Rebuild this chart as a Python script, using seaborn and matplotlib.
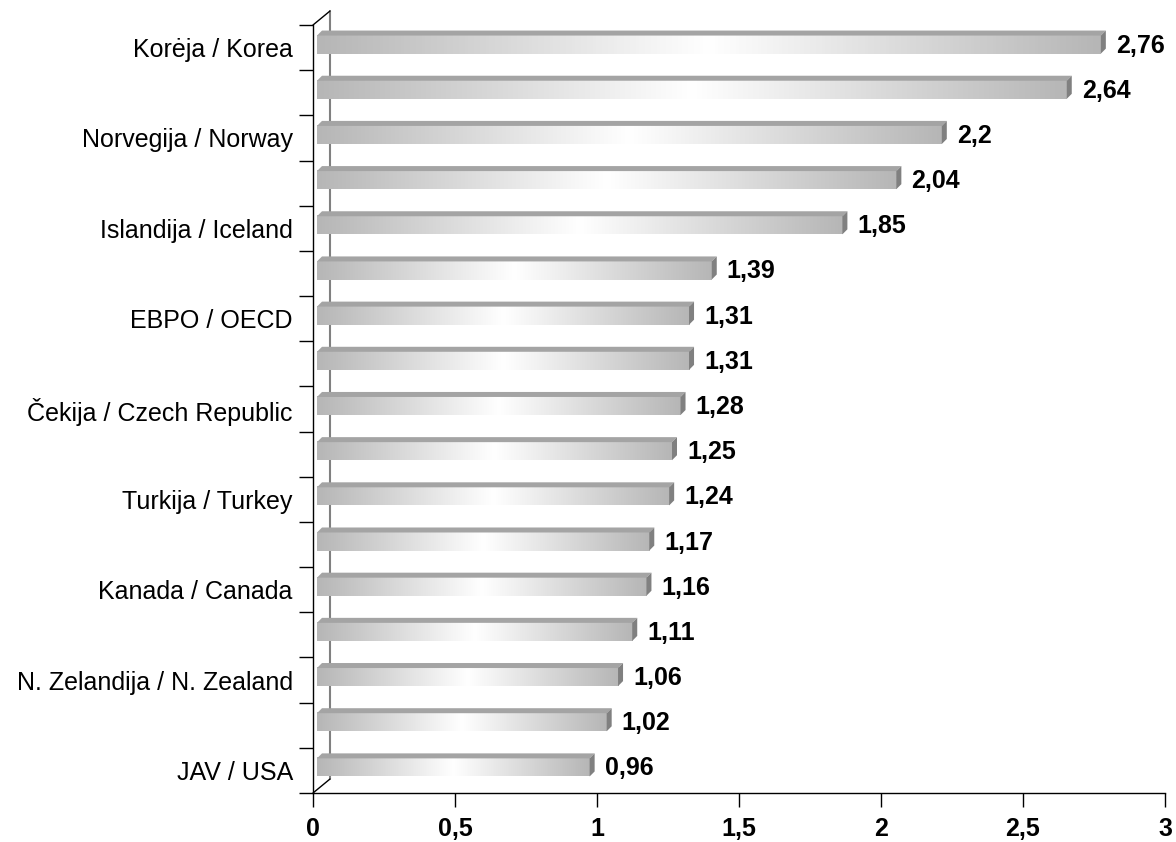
import numpy as np
import pandas as pd
import matplotlib
matplotlib.use('Agg')
import matplotlib.pyplot as plt
import seaborn as sns
from matplotlib.patches import Polygon
from matplotlib.colors import LinearSegmentedColormap
from matplotlib.transforms import IdentityTransform

labels = ['Korėja / Korea', '', 'Norvegija / Norway', '', 'Islandija / Iceland', '',
          'EBPO / OECD', '', 'Čekija / Czech Republic', '', 'Turkija / Turkey', '',
          'Kanada / Canada', '', 'N. Zelandija / N. Zealand', '', 'JAV / USA']
values = [2.76, 2.64, 2.2, 2.04, 1.85, 1.39, 1.31, 1.31, 1.28, 1.25, 1.24, 1.17,
          1.16, 1.11, 1.06, 1.02, 0.96]
xticks = [0, 0.5, 1, 1.5, 2, 2.5, 3]

df = pd.DataFrame({'row': ['r%d' % i for i in range(len(values))], 'value': values})

sns.set_style('white')
plt.rcParams['font.family'] = ['Liberation Sans', 'DejaVu Sans']
plt.rcParams['text.color'] = 'black'
plt.rcParams['xtick.color'] = 'black'
plt.rcParams['ytick.color'] = 'black'

W, H = 1176, 842
fig = plt.figure(figsize=(W / 100, H / 100), dpi=100)
ax = fig.add_axes([313 / W, 1 - 793 / H, 852 / W, 768 / H])

sns.barplot(data=df, x='value', y='row', orient='h', width=0.40, color='#bbbbbb',
            ax=ax, zorder=3)
ax.set_xlim(0, 3)
ax.set_ylim(len(values) - 0.5, -0.5)

# 3d look: shift of the front face, depth of the top face
shx, shy = 4, 3
dep = 5
grad = LinearSegmentedColormap.from_list('g', ['#b6b6b6', '#ffffff', '#b6b6b6'])
gimg = np.linspace(0, 1, 256).reshape(1, -1)

fig.canvas.draw()
for p, v in zip(ax.patches, values):
    p.set_visible(False)
    x0, y0 = p.get_x(), p.get_y()
    x1, y1 = x0 + p.get_width(), y0 + p.get_height()
    (px0, py0), (px1, py1) = ax.transData.transform([(x0, y0), (x1, y1)])
    px0 += shx; px1 += shx; py0 += shy; py1 += shy
    top, bot = max(py0, py1), min(py0, py1)
    # front face gradient
    ax.imshow(gimg, cmap=grad, aspect='auto', interpolation='bilinear',
              extent=[px0, px1, bot, top], transform=IdentityTransform(),
              zorder=3, clip_on=False)
    # top face
    ax.add_patch(Polygon([(px0, top), (px1, top), (px1 + dep, top + dep), (px0 + dep, top + dep)],
                         closed=True, facecolor='#a4a4a4', edgecolor='none',
                         transform=IdentityTransform(), zorder=4, clip_on=False))
    # end cap
    ax.add_patch(Polygon([(px1, bot), (px1, top), (px1 + dep, top + dep), (px1 + dep, bot + dep)],
                         closed=True, facecolor='#808080', edgecolor='none',
                         transform=IdentityTransform(), zorder=4, clip_on=False))
    ax.text(px1 + dep + 10, (top + bot) / 2 - 1, ('%g' % v).replace('.', ','),
            transform=IdentityTransform(), ha='left', va='center',
            fontsize=18, fontweight='bold', color='black', zorder=5)

# back wall and floor edges
(ax0, ay0), (ax1, ay1) = ax.transAxes.transform([(0, 0), (1, 1)])
wx, wy = 17, 14
ax.plot([ax0 + wx, ax0 + wx], [ay0 + wy, ay1 + wy], color='#808080', lw=1.5,
        transform=IdentityTransform(), zorder=1, clip_on=False)
ax.plot([ax0, ax0 + wx], [ay1, ay1 + wy], color='black', lw=1,
        transform=IdentityTransform(), zorder=1, clip_on=False)
ax.plot([ax0, ax0 + wx], [ay0, ay0 + wy], color='black', lw=1,
        transform=IdentityTransform(), zorder=1, clip_on=False)

for s in ['top', 'right']:
    ax.spines[s].set_visible(False)
for s in ['left', 'bottom']:
    ax.spines[s].set_color('black')
    ax.spines[s].set_linewidth(1)

ax.set_xticks(xticks)
ax.set_xticklabels([('%g' % t).replace('.', ',') for t in xticks],
                   fontsize=18, fontweight='bold', color='black')
ax.tick_params(axis='x', direction='out', length=10, width=1, color='black', pad=7,
               bottom=True)
ax.set_yticks(range(len(values)))
ax.set_yticklabels(labels, fontsize=18, color='black')
ax.set_yticks(np.arange(-0.5, len(values), 1), minor=True)
ax.tick_params(axis='y', which='major', length=0, pad=14.5, left=False)
ax.tick_params(axis='y', which='minor', length=10, width=1, color='black', left=True)
ax.set_xlabel('')
ax.set_ylabel('')
ax.grid(False)

fig.savefig('out.png', dpi=100)
